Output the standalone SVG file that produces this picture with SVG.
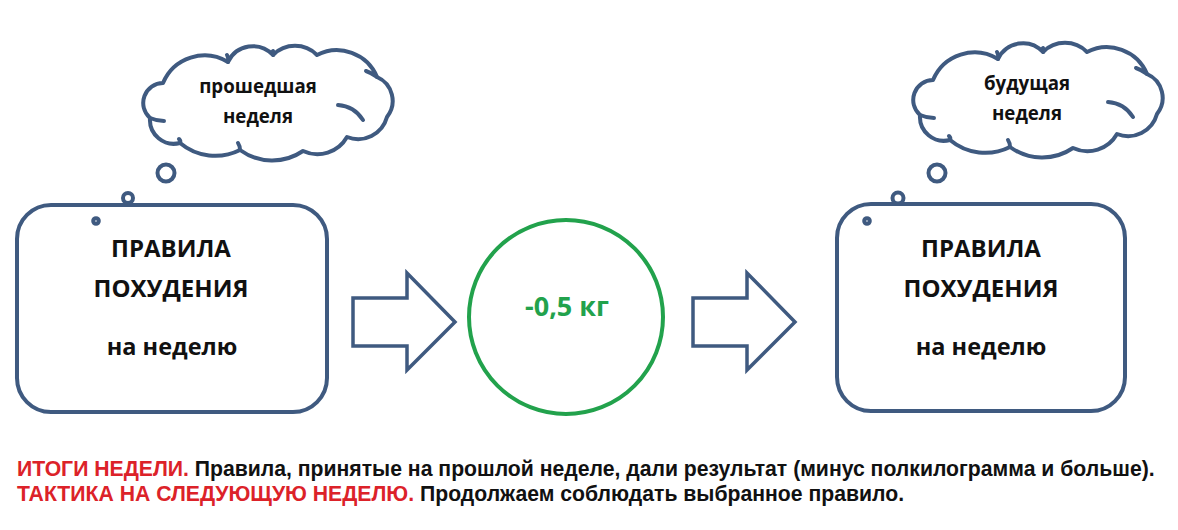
<svg xmlns="http://www.w3.org/2000/svg" width="1178" height="530" viewBox="0 0 1178 530">
<defs>
<style>
.ol{fill:#fff;stroke:#3f5a80;stroke-width:4;stroke-linejoin:round;stroke-linecap:round}
.tl{fill:none;stroke:#3f5a80;stroke-width:4;stroke-linecap:round}
.ar{fill:#fff;stroke:#3f5a80;stroke-width:3.5;stroke-linejoin:miter}
.bt{font-family:"Open Sans","DejaVu Sans",sans-serif;font-weight:700;fill:#111;text-anchor:middle}
.ft{font-family:"Liberation Sans",Arial,sans-serif;font-weight:700;font-size:21.2px;fill:#111}
.red{fill:#dc2229}
</style>
<g id="cloudShape">
<path class="ol" d="M150,118 A20,20 0 0 1 163,83 A45,45 0 0 1 228,62 A27.5,27.5 0 0 1 273,55 A31,31 0 0 1 317,55 A43.6,43.6 0 0 1 377,77 A26,26 0 0 1 387,117 A30,30 0 0 1 347,137 A34,34 0 0 1 303,151 A54.6,54.6 0 0 1 240,150 A55,55 0 0 1 180,143 A24,24 0 0 1 150,118 Z"/>
<path class="tl" d="M150,118 Q157,121 164,121"/>
<path class="tl" d="M338,105 Q354,106 363,120"/>
<path class="tl" d="M228,62 Q229,58 227,55"/>
<path class="tl" d="M273,55 Q274,53 273,51"/>
<path class="tl" d="M377,77 Q372,73 366,71"/>
<path class="tl" d="M240,150 Q240,146 238,143"/>
<path class="tl" d="M180,143 Q181,141 179,139"/>
</g>
</defs>
<rect width="1178" height="530" fill="#fff"/>
<g id="connectors">
<path id="arrow1" class="ar" d="M353,298 L407,298 L407,273 L455,322 L407,370 L407,346 L353,346 Z"/>
<path id="arrow2" class="ar" d="M693,298 L747,298 L747,273 L795,322 L747,370 L747,346 L693,346 Z"/>
</g>
<g id="cloud-left">
<use href="#cloudShape"/>
<text class="bt" x="258" y="93" font-size="18.7">прошедшая</text>
<text class="bt" x="258" y="123" font-size="18.7">неделя</text>
</g>
<g id="bubbles-left">
<circle class="ol" cx="166" cy="173" r="8.5" stroke-width="3.5"/>
</g>
<g id="box-left">
<rect class="ol" x="17" y="205" width="310" height="207" rx="34"/>
<circle class="ol" cx="128" cy="198" r="5" stroke-width="3.5"/>
<circle class="ol" cx="96" cy="221" r="2.8" stroke-width="3"/>
<text class="bt" x="171" y="257" font-size="24">ПРАВИЛА</text>
<text class="bt" x="171" y="297" font-size="24">ПОХУДЕНИЯ</text>
<text class="bt" x="172" y="355" font-size="23.5">на неделю</text>
</g>
<g id="result">
<circle cx="566" cy="317" r="97" fill="#fff" stroke="#22a24c" stroke-width="4"/>
<text class="bt" x="567" y="316" font-size="27" style="fill:#22a24c">-0,5 кг</text>
</g>
<g id="cloud-right">
<use href="#cloudShape" transform="translate(770,-3)"/>
<text class="bt" x="1027" y="90" font-size="18.7">будущая</text>
<text class="bt" x="1027" y="120" font-size="18.7">неделя</text>
</g>
<g id="bubbles-right">
<circle class="ol" cx="937" cy="173" r="8.5" stroke-width="3.5"/>
</g>
<g id="box-right">
<rect class="ol" x="837" y="204" width="288" height="207" rx="34"/>
<circle class="ol" cx="898" cy="198" r="5.5" stroke-width="3.5"/>
<circle class="ol" cx="867" cy="221" r="2.8" stroke-width="3"/>
<text class="bt" x="981" y="257" font-size="24">ПРАВИЛА</text>
<text class="bt" x="981" y="297" font-size="24">ПОХУДЕНИЯ</text>
<text class="bt" x="981" y="355" font-size="23.5">на неделю</text>
</g>
<g id="summary">
<text class="ft" x="17" y="476"><tspan class="red">ИТОГИ НЕДЕЛИ.</tspan> Правила, принятые на прошлой неделе, дали результат (минус полкилограмма и больше).</text>
<text class="ft" x="17" y="501"><tspan class="red">ТАКТИКА НА СЛЕДУЮЩУЮ НЕДЕЛЮ.</tspan> Продолжаем соблюдать выбранное правило.</text>
</g>
</svg>
